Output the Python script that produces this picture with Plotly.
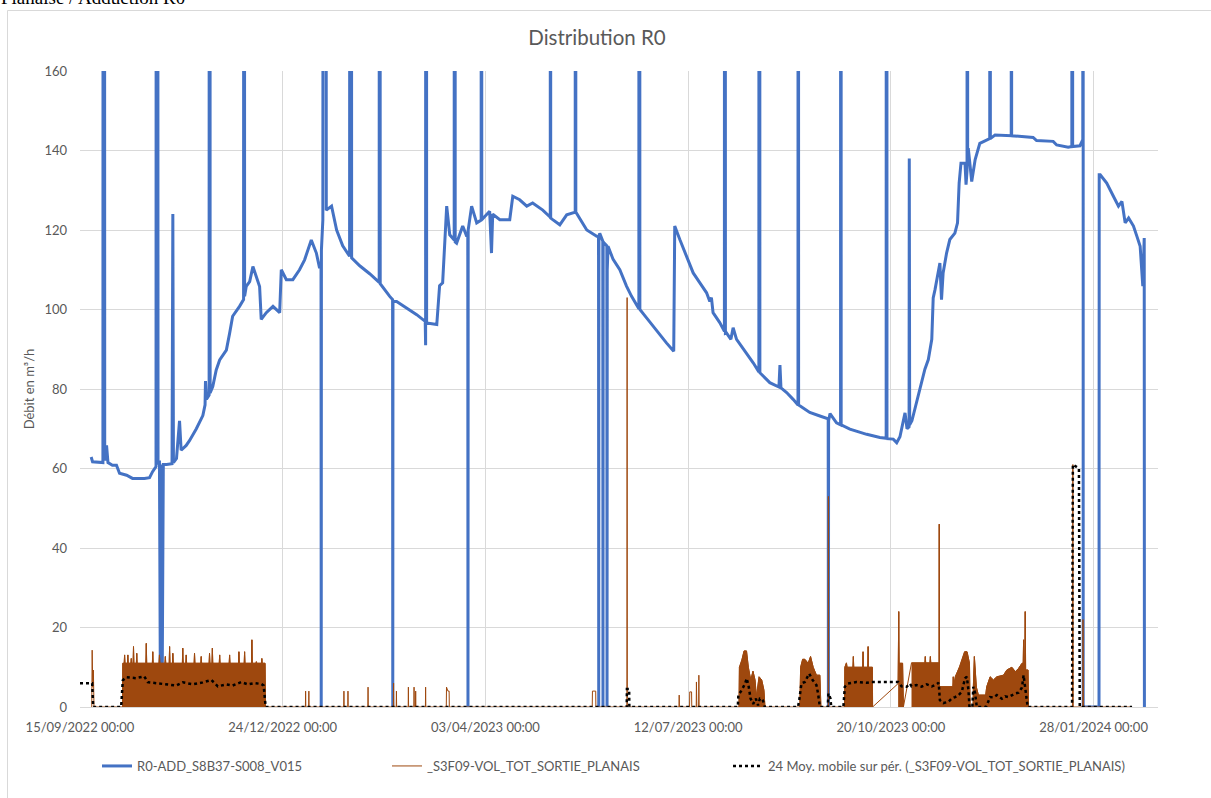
import pandas as pd
import plotly.graph_objects as go

START = "2022-09-15"
# days since 15/09/2022 00:00, value in m3/h (1000 = off-scale spike)
blue_points = [
    (5.5, 62.9), (6.2, 61.7), (11.3, 61.5), (11.7, 1000), (12.2, 62), (13.1, 65.8), (13.8, 61.5),
    (16.0, 60.8), (18.0, 60.8), (19.5, 58.8), (23.0, 58.3), (25.9, 57.5), (31.8, 57.5), (34.3, 57.7),
    (35.8, 59.2), (37.5, 60.5), (37.9, 1000), (38.5, 61), (39.2, 62), (39.6, 11), (40.1, 61),
    (40.6, 11), (41.1, 61), (42.7, 61), (45.4, 61.2), (45.8, 124), (46.1, 61.5), (47.6, 62.5),
    (49.1, 72), (49.9, 64.6), (52.4, 65.8), (54.0, 67), (57.4, 70), (60.6, 73.3), (61.7, 76),
    (61.9, 82), (62.4, 77.4), (63.7, 78.5), (63.9, 1000), (64.2, 79), (65.5, 80.6), (67.2, 84.8),
    (68.9, 87.3), (72.2, 89.8), (73.8, 94), (75.3, 98.3), (78.7, 100.8), (80.7, 102.5), (80.9, 1000),
    (81.2, 103.3), (82.0, 105.8), (83.7, 107), (85.3, 110.8), (87.0, 108.3), (88.6, 105.8),
    (89.4, 97.5), (91.9, 99.2), (95.2, 100.8), (98.5, 99.2), (99.3, 110), (101.8, 107.5),
    (105.0, 107.5), (108.3, 110), (110.8, 112.5), (114.1, 117.5), (116.6, 114.2), (118.2, 110.4),
    (118.9, 112), (119.0, 0), (119.1, 115), (119.8, 122.5), (120.7, 1000), (121.5, 125), (124.1, 126),
    (126.6, 120), (129.6, 116), (133.0, 113.4), (133.5, 1000), (134.0, 113), (138.0, 111),
    (142.9, 109), (147.6, 106.8), (147.8, 1000), (148.1, 106.5), (152.8, 103.3), (154.2, 102.5),
    (154.3, 0), (154.4, 102), (156.2, 102), (161.2, 100.4), (166.1, 98.7), (170.3, 97), (170.5, 91),
    (170.7, 1000), (171.0, 96.6), (176.0, 96.2), (177.4, 106), (178.9, 106.7), (179.9, 118.4),
    (180.9, 126), (182.4, 118.8), (184.6, 117.5), (184.8, 1000), (185.1, 117), (185.8, 116.7),
    (188.8, 121), (190.8, 118.4), (191.3, 119), (191.4, 0), (191.5, 120), (193.2, 126),
    (195.7, 121.8), (197.9, 122.5), (198.0, 1000), (198.2, 122.6), (202.1, 124.7), (203.0, 114.2),
    (203.6, 124), (207.1, 122.6), (212.0, 122.6), (213.5, 128.5), (216.9, 127.6), (220.4, 126),
    (223.3, 126.8), (228.3, 125), (232.0, 123.2), (232.1, 1000), (232.2, 123), (233.2, 122.6),
    (236.7, 121.3), (240.1, 123.8), (244.3, 124.5), (244.4, 1000), (244.6, 124.5), (250.0, 120),
    (254.9, 118.4), (255.8, 118.4), (255.9, 0), (256.0, 118), (256.4, 119.2), (257.9, 117.2),
    (258.0, 0), (258.1, 117), (259.9, 116), (260.0, 0), (260.1, 110), (260.5, 115.9), (263.0, 112.6),
    (266.3, 110), (269.6, 105.9), (272.1, 103.3), (275.7, 100.2), (275.8, 1000), (276.2, 100),
    (279.5, 97.9), (282.7, 95.8), (286.0, 93.7), (289.3, 91.6), (292.9, 89.5), (293.4, 121),
    (295.9, 117.6), (299.2, 113.4), (302.5, 109.2), (305.8, 106.7), (309.1, 104.2), (310.7, 102),
    (311.5, 103), (312.3, 99.2), (315.6, 96.7), (317.9, 94.5), (318.1, 1000), (318.4, 94),
    (318.9, 94.1), (321.1, 92.5), (322.2, 95.4), (323.9, 92.5), (328.8, 89.1), (332.1, 86.6),
    (334.9, 84.3), (335.1, 1000), (335.4, 84.1), (340.3, 81.6), (344.8, 80.5), (345.3, 86),
    (345.8, 80.3), (348.6, 79.1), (351.8, 77.4), (354.2, 76), (354.3, 1000), (354.5, 76),
    (355.1, 75.8), (360.0, 74.1), (365.0, 73.2), (369.1, 72.5), (369.2, 0), (369.3, 72),
    (370.0, 73.8), (373.2, 71.5), (375.2, 71), (375.4, 1000), (375.5, 71), (379.8, 69.9),
    (388.1, 68.6), (394.6, 67.8), (397.7, 67.6), (397.9, 1000), (398.1, 67.5), (401.2, 67.4),
    (402.9, 66.5), (404.5, 68), (407.0, 74), (408.0, 70), (409.0, 70.5), (409.1, 138), (409.3, 71),
    (410.4, 72), (412.4, 76), (414.3, 80), (416.8, 85), (418.5, 87.4), (420.2, 92.5), (420.9, 102.9),
    (421.8, 105), (424.2, 111.7), (425.0, 102.5), (425.8, 109.2), (427.5, 114.2), (429.1, 117.6),
    (431.6, 119.2), (432.9, 121.8), (433.7, 131.8), (434.6, 136.8), (436.6, 136.8), (437.1, 131.4),
    (437.6, 135), (437.7, 1000), (437.9, 138), (438.2, 140.6), (439.9, 132.2), (441.6, 137.7),
    (443.9, 141.8), (447.3, 142.7), (448.8, 143), (448.9, 1000), (449.1, 143), (451.4, 143.9),
    (459.4, 143.7), (459.5, 1000), (459.6, 143.7), (470.2, 143.3), (471.9, 142.5), (480.1, 142.3),
    (481.8, 141.4), (487.5, 140.8), (489.3, 141), (489.5, 1000), (489.7, 141), (493.3, 141.2),
    (494.7, 142.7), (494.8, 1000), (494.9, 0), (502.7, 0), (502.8, 133.9), (503.3, 133.9),
    (506.5, 131.8), (509.8, 128.5), (512.3, 126), (514.0, 127.2), (515.6, 121.8), (517.3, 123),
    (519.7, 121), (521.4, 118.4), (523.0, 115.9), (524.3, 105.9), (525.0, 118), (525.1, 0),
]

brown_points = [
    (5.8, 0), (6.0, 14.3), (6.3, 5), (6.6, 9.3), (6.9, 0), (21.0, 0),
    (21.1, 11), (21.8, 11), (22.0, 13.1), (22.2, 11), (23.4, 11), (23.6, 13.1), (23.8, 11),
    (25.1, 11), (25.3, 12.2), (25.5, 11), (26.2, 11), (26.4, 15.2), (26.6, 11), (27.8, 11),
    (28.0, 13.5), (28.2, 11), (32.5, 11), (32.7, 16.0), (32.9, 11), (35.7, 11), (35.9, 13.9),
    (36.1, 11), (39.0, 11), (39.2, 13.1), (39.4, 11), (41.9, 11), (42.1, 12.7), (42.3, 11),
    (44.0, 11), (44.2, 15.2), (44.4, 11), (45.6, 11), (45.8, 13.5), (46.0, 11), (50.5, 11),
    (50.7, 14.8), (50.9, 11), (52.2, 11), (52.4, 13.1), (52.6, 11), (56.3, 11), (56.5, 13.5),
    (56.7, 11), (59.6, 11), (59.8, 12.7), (60.0, 11), (63.7, 11), (63.9, 13.5), (64.1, 11),
    (65.1, 11), (65.3, 14.8), (65.5, 11), (68.7, 11), (68.9, 13.1), (69.1, 11), (73.6, 11),
    (73.8, 13.1), (74.0, 11), (78.2, 11), (78.4, 13.9), (78.6, 11), (81.0, 11), (81.2, 13.9),
    (81.4, 11), (84.6, 11), (84.8, 16.9), (85.0, 11), (86.8, 11), (87.0, 11.4), (87.2, 11),
    (89.5, 11), (89.7, 12.2), (89.9, 11), (91.3, 11), (91.5, 0),
    (111.2, 0), (111.3, 4), (111.4, 0), (112.8, 0), (112.9, 4), (113.0, 0),
    (130.1, 0), (130.2, 4), (130.3, 0), (132.1, 0), (132.2, 4), (132.3, 0),
    (142.0, 0), (142.1, 5), (142.2, 0), (154.6, 0), (154.7, 6), (154.8, 0),
    (156.0, 0), (156.1, 4), (156.2, 0), (161.9, 0), (162.0, 5), (162.1, 0),
    (164.7, 0), (164.8, 5), (164.9, 0), (165.5, 0), (165.6, 4), (165.7, 0),
    (170.4, 0), (170.5, 5), (170.6, 0), (180.7, 0), (180.8, 5), (181.5, 4), (182.1, 4), (182.2, 0),
    (252.7, 0), (252.8, 4), (254.4, 4), (254.5, 0), (269.8, 0), (269.9, 103), (270.0, 0),
    (295.5, 0), (295.6, 3), (295.7, 0), (300.7, 0), (300.8, 3.8), (301.7, 3.8), (301.8, 0),
    (304.0, 0), (304.1, 6.3), (304.3, 0), (305.2, 0), (305.3, 8.0), (305.4, 0),
    (325.1, 0), (325.3, 10), (326.5, 11.8), (327.6, 14.1), (328.8, 14.1), (329.7, 10),
    (330.9, 6.8), (332.0, 9), (333.0, 6.8), (333.7, 2.5), (335.0, 7.6), (336.3, 6.8),
    (337.4, 4.2), (337.9, 0),
    (355.1, 0), (355.5, 10), (356.5, 12), (357.6, 12), (359.2, 11), (360.4, 12.7), (361.7, 10),
    (363.3, 8), (365.0, 8), (365.5, 0), (369.1, 0), (369.2, 53), (369.3, 0),
    (377.2, 0), (377.3, 10), (378.1, 11.1), (378.4, 10), (381.3, 10), (381.5, 12.7), (381.7, 10),
    (386.1, 10), (386.3, 13.9), (386.5, 10), (388.6, 10), (388.8, 15.2), (389.0, 10),
    (390.9, 10), (391.0, 0),
    (403.6, 5.9), (403.9, 24), (404.1, 11), (405.8, 11), (406.2, 0),
    (410.2, 11.1), (416.8, 11.1), (417.0, 12.7), (417.2, 11.1), (419.3, 11.1), (419.5, 12.7),
    (419.7, 11.1), (423.8, 11.1), (423.9, 46), (424.0, 5.1),
    (430.6, 5.1), (430.8, 7.6), (431.0, 5.1), (431.8, 7.6), (433.9, 10.1), (436.4, 13.9),
    (437.6, 13.9), (438.8, 11), (439.1, 0),
    (440.6, 0), (440.7, 5), (441.2, 12.7), (442.2, 5), (443.2, 3), (446.8, 3),
    (447.3, 5.1), (449.0, 7.6), (450.6, 6.8), (452.3, 7.6), (455.6, 8.0), (457.2, 9.3),
    (459.7, 10), (461.4, 8.9), (463.0, 9.7), (464.7, 11), (465.3, 11), (465.5, 16.9), (465.7, 11),
    (466.1, 11), (466.3, 24), (466.5, 9.3), (467.7, 9.3), (467.9, 0),
    (489.6, 0), (489.8, 61), (490.0, 0), (494.7, 0), (494.8, 22), (495.0, 0), (519.0, 0),
]

# periods where the hourly series is dense (drawn as a solid band)
dense_periods = [(21.0, 91.6), (325.0, 338.0), (355.0, 365.6), (377.1, 391.1),
                 (403.5, 406.3), (410.1, 468.0)]

ma_points = [
    (0, 6.0), (6.0, 6.0), (6.5, 0), (20.3, 0), (21.1, 6.7), (22.7, 7.5), (27.6, 7.25),
    (31.7, 7.7), (33.4, 6.25), (37.6, 6.0), (42.5, 5.7), (47.5, 5.4), (50.7, 6.2), (55.7, 5.7),
    (60.6, 6.2), (64.8, 6.8), (68.0, 5.2), (72.2, 5.7), (75.3, 5.4), (79.5, 6.25), (82.8, 5.7),
    (86.1, 6.0), (89.4, 5.8), (90.6, 5.4), (91.6, 0),
    (269.7, 0), (269.8, 4.5), (270.9, 4.5), (271.0, 0),
    (324.5, 0), (324.8, 3.0), (326.4, 4.2), (328.1, 5.9), (328.9, 7.2), (329.9, 5.1), (330.8, 2.1),
    (332.1, 0.8), (333.4, 2.1), (334.5, 0.4), (335.4, 2.1), (336.7, 2.0), (337.8, 0),
    (354.2, 0), (354.8, 1.7), (355.9, 5.9), (357.6, 6.3), (359.7, 8.4), (361.4, 6.8), (363.3, 5.5),
    (364.1, 3.4), (365.0, 0), (368.9, 0), (369.2, 3.4), (370.2, 2.2), (370.6, 0),
    (376.6, 0), (377.3, 5.1), (378.9, 5.9), (383.1, 6.3), (388.1, 6.1), (390.6, 6.3), (403.6, 6.3),
    (405.3, 5.2), (407.8, 5.1), (409.4, 5.9), (410.2, 5.2), (412.7, 5.5), (415.2, 5.1), (417.7, 5.7),
    (420.2, 5.2), (422.6, 5.7), (423.6, 6.1), (424.2, 1.7), (425.9, 1.0), (428.4, 1.3), (430.0, 2.1),
    (431.7, 2.5), (433.4, 3.0), (435.0, 3.8), (436.6, 7.2), (437.5, 7.6), (438.3, 4.2), (438.8, 0),
    (440.2, 0), (440.7, 5.1), (441.6, 3.4), (442.4, 0), (446.9, 0), (447.3, 0.4), (449.0, 2.5),
    (450.6, 2.4), (452.3, 3.0), (454.8, 2.1), (456.4, 2.7), (458.1, 2.5), (459.7, 3.0), (461.4, 3.4),
    (463.0, 3.6), (464.7, 4.9), (465.5, 8.0), (466.7, 3.4), (467.5, 0),
    (489.4, 0), (489.8, 61), (492.8, 60), (493.2, 0), (519.0, 0),
]

tick_days = [0, 100, 200, 300, 400, 500]
y_ticks = [0, 20, 40, 60, 80, 100, 120, 140, 160]
x_end_day = 531.8

series_names = ["R0-ADD_S8B37-S008_V015", "_S3F09-VOL_TOT_SORTIE_PLANAIS",
                "24 Moy. mobile sur pér. (_S3F09-VOL_TOT_SORTIE_PLANAIS)"]

BLUE, BROWN, GREY, GRID = "#4472C4", "#9E480E", "#595959", "#D9D9D9"
FONT = "Lato"
t0 = pd.Timestamp(START)


def to_dates(days):
    return [t0 + pd.to_timedelta(d, unit="D") for d in days]


def split(points):
    return [p[0] for p in points], [p[1] for p in points]


bd, bv = split(blue_points)
rd, rv = split(brown_points)
md, mv = split(ma_points)

fig = go.Figure()
fig.add_trace(go.Scatter(x=to_dates(bd), y=bv, mode="lines", name=series_names[0],
                         line=dict(color=BLUE, width=3), legend="legend"))
for a, b in dense_periods:
    seg = [(d, v) for d, v in brown_points if a <= d <= b]
    sd, sv = split(seg)
    fig.add_trace(go.Scatter(x=to_dates(sd), y=sv, mode="lines", fill="tozeroy",
                             fillcolor=BROWN, line=dict(color=BROWN, width=1),
                             showlegend=False, hoverinfo="skip"))
fig.add_trace(go.Scatter(x=to_dates(rd), y=rv, mode="lines", name=series_names[1],
                         line=dict(color=BROWN, width=1), legend="legend2"))
fig.add_trace(go.Scatter(x=to_dates(md), y=mv, mode="lines", name=series_names[2],
                         line=dict(color="black", width=2.5, dash="dot"), legend="legend3"))

W, H = 1211, 798
L, R, T, B = 80, 1158, 71, 707


def px_x(p):
    return (p - L) / (R - L)


def px_y(p):
    return (B - p) / (B - T)


leg = dict(orientation="h", yanchor="middle", y=px_y(766), xanchor="left",
           font=dict(family=FONT, size=13, color=GREY), bgcolor="rgba(0,0,0,0)")

fig.update_layout(
    width=W, height=H,
    margin=dict(l=L, r=W - R, t=T, b=H - B, pad=0),
    paper_bgcolor="white", plot_bgcolor="white",
    font=dict(family=FONT, size=13, color=GREY),
    title=dict(text="Distribution R0", x=597 / W, xref="container", xanchor="center",
               y=1 - 38 / H, yref="container", yanchor="middle",
               font=dict(family=FONT, size=20.5, color=GREY)),
    legend=dict(leg, x=px_x(97)),
    legend2=dict(leg, x=px_x(387)),
    legend3=dict(leg, x=px_x(728)),
    xaxis=dict(type="date", range=to_dates([0, x_end_day]), tickvals=to_dates(tick_days),
               tickformat="%d/%m/%Y %H:%M", showgrid=True, gridcolor=GRID, gridwidth=1,
               showline=True, linecolor=GRID, linewidth=1, ticks="", zeroline=False,
               tickfont=dict(family=FONT, size=13, color=GREY), ticklabelstandoff=8),
    yaxis=dict(range=[0, 160], tickvals=y_ticks, showgrid=True, gridcolor=GRID, gridwidth=1,
               showline=False, ticks="", zeroline=False,
               tickfont=dict(family=FONT, size=13, color=GREY), ticklabelstandoff=12,
               title=dict(text="Débit en m³/h", standoff=6,
                          font=dict(family=FONT, size=13, color=GREY))),
    shapes=[dict(type="rect", xref="paper", yref="paper", x0=px_x(7.5), x1=px_x(1230),
                 y0=px_y(820), y1=px_y(10.5), line=dict(color=GRID, width=1),
                 fillcolor="rgba(0,0,0,0)", layer="below")],
    annotations=[dict(text="Planaise / Adduction R0", xref="paper", yref="paper",
                      x=px_x(-1), y=px_y(10), xanchor="left", yanchor="bottom", showarrow=False,
                      font=dict(family="Liberation Serif", size=19, color="black"))],
    showlegend=True,
)

fig.write_html("out.html")
